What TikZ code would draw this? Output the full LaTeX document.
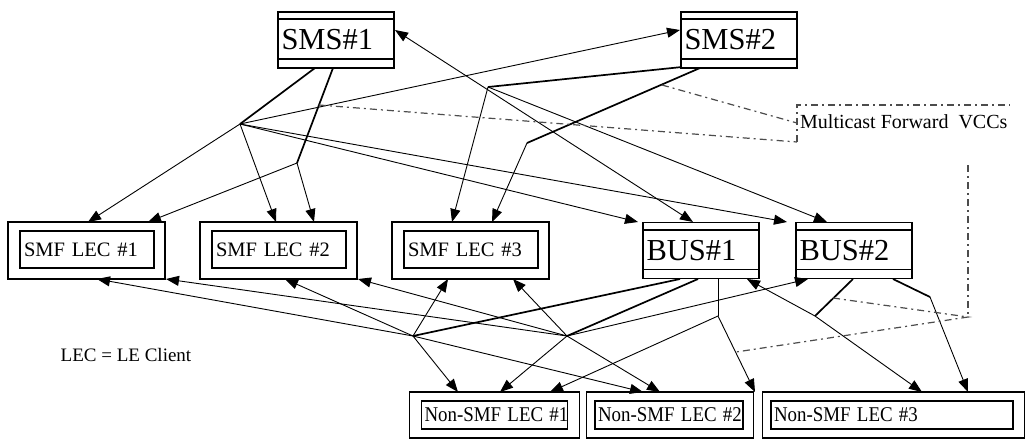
\documentclass[tikz,border=0pt]{standalone}
\usepackage{fontspec}
\setmainfont{Liberation Serif}
\usetikzlibrary{arrows.meta}
\begin{document}
\begin{tikzpicture}[x=1pt,y=-1pt,
  srv/.style={draw,line width=1.6pt,minimum height=56pt,text width=109pt,inner xsep=3.5pt,align=left,font=\fontsize{30.5}{30}\selectfont},
  outerbox/.style={draw,line width=1.6pt,inner sep=0pt},
  innerbox/.style={draw,line width=1.6pt,inner xsep=3pt,inner ysep=0pt,align=left},
  conn/.style={line width=0.9pt,-{Triangle[length=13pt,width=10pt]}},
  feed/.style={line width=1.7pt},
  plain/.style={line width=0.9pt},
  vcc/.style={line width=1.2pt,black!70,dash pattern=on 7pt off 4pt on 2pt off 4pt}]
\useasboundingbox (0,0) rectangle (1029,440);

% servers
\node[srv] (sms1) at (336,40) {SMS\#1};
\node[srv] (sms2) at (739,40) {SMS\#2};
\node[srv] (bus1) at (701,250.5) {BUS\#1};
\node[srv] (bus2) at (854,250.5) {BUS\#2};
\foreach \n in {sms1,sms2,bus1,bus2}{
  \draw[line width=1.6pt] ([yshift=-8pt]\n.north west) -- ([yshift=-8pt]\n.north east);
  \draw[line width=1.6pt] ([yshift=10pt]\n.south west) -- ([yshift=10pt]\n.south east);
}

% SMF clients
\tikzset{smfin/.style={innerbox,inner xsep=4pt,text width=126pt,minimum height=37pt,font=\fontsize{20.5}{20}\selectfont}}
\node[outerbox,minimum width=157pt,minimum height=57pt] (smf1o) at (86.5,250.5) {};
\node[smfin] (smf1) at (87,249.5) {SMF LEC \#1};
\node[outerbox,minimum width=157pt,minimum height=57pt] (smf2o) at (278.5,250.5) {};
\node[smfin] (smf2) at (279,249.5) {SMF LEC \#2};
\node[outerbox,minimum width=157pt,minimum height=57pt] (smf3o) at (470.5,250.5) {};
\node[smfin] (smf3) at (471,249.5) {SMF LEC \#3};

% non-SMF clients
\tikzset{nsin/.style={innerbox,minimum height=28pt,font=\fontsize{21}{21}\selectfont}}
\newcommand{\nslabel}[1]{\scalebox{0.9}[1]{#1}}
\node[outerbox,minimum width=170pt,minimum height=46pt] (ns1o) at (494.5,415) {};
\node[nsin,text width=140pt] (ns1) at (494.5,415) {\nslabel{Non-SMF LEC \#1}};
\node[outerbox,minimum width=167pt,minimum height=46pt] (ns2o) at (670,415) {};
\node[nsin,text width=142pt] (ns2) at (669,415) {\nslabel{Non-SMF LEC \#2}};
\node[outerbox,minimum width=262pt,minimum height=46pt] (ns3o) at (893.5,415) {};
\node[nsin,text width=236pt] (ns3) at (892,415) {\nslabel{Non-SMF LEC \#3}};

% labels
\node[font=\fontsize{19}{19}\selectfont] (leclabel) at (126,355) {LEC = LE Client};
\node[anchor=west,inner sep=0pt,font=\fontsize{20}{20}\selectfont] (mfv) at (800,122) {Multicast Forward\ \ VCCs};

% fan points
\coordinate (A) at (240,124);
\coordinate (B) at (297,163);
\coordinate (C) at (488,87);
\coordinate (D) at (527,143);
\coordinate (E) at (413,336);
\coordinate (F) at (567,336);
\coordinate (G) at (718,316);
\coordinate (H) at (815,316);
\coordinate (K) at (930,297);

% server feeds
\draw[feed] (315,68) -- (A);
\draw[feed] (333,68) -- (B);
\draw[feed] (682,67) -- (C);
\draw[feed] (700,68) -- (D);
\draw[feed] (680,279) -- (E);
\draw[feed] (698,279) -- (F);
\draw[plain] (718,279) -- (G);
\draw[feed] (853,279) -- (H);
\draw[feed] (893,279) -- (K);

% top arrows
\draw[conn] (A) -- (88,222);
\draw[conn] (A) -- (276,222);
\draw[conn] (A) -- (680,30);
\draw[conn] (A) -- (638,222);
\draw[conn] (A) -- (787,222);
\draw[conn] (B) -- (148,222);
\draw[conn] (B) -- (314,222);
\draw[conn] (C) -- (452,222);
\draw[conn] (D) -- (492,222);
\draw[conn] (C) -- (827,222);
\draw[plain,{Triangle[length=13pt,width=10pt]}-{Triangle[length=13pt,width=10pt]}] (395,30) -- (693,222);

% bottom arrows
\draw[conn] (E) -- (97,279);
\draw[conn] (E) -- (285,279);
\draw[conn] (E) -- (448,279);
\draw[conn] (E) -- (458,392);
\draw[conn] (E) -- (643,392);
\draw[conn] (F) -- (166,279);
\draw[conn] (F) -- (358,279);
\draw[conn] (F) -- (513,279);
\draw[conn] (F) -- (500,392);
\draw[conn] (F) -- (660,392);
\draw[conn] (F) -- (808,279);
\draw[conn] (G) -- (550,392);
\draw[conn] (G) -- (755,392);
\draw[conn] (H) -- (747,279);
\draw[conn] (H) -- (922,392);
\draw[conn] (K) -- (968,392);

% multicast forward VCC markers
\draw[vcc] (797,142) -- (797,105) -- (1010,105);
\draw[vcc] (662,85) -- (797,123);
\draw[vcc] (319,105) -- (797,142);
\draw[vcc] (968,165) -- (968,317);
\draw[vcc] (833,298) -- (968,317) -- (736,352);
\end{tikzpicture}
\end{document}
